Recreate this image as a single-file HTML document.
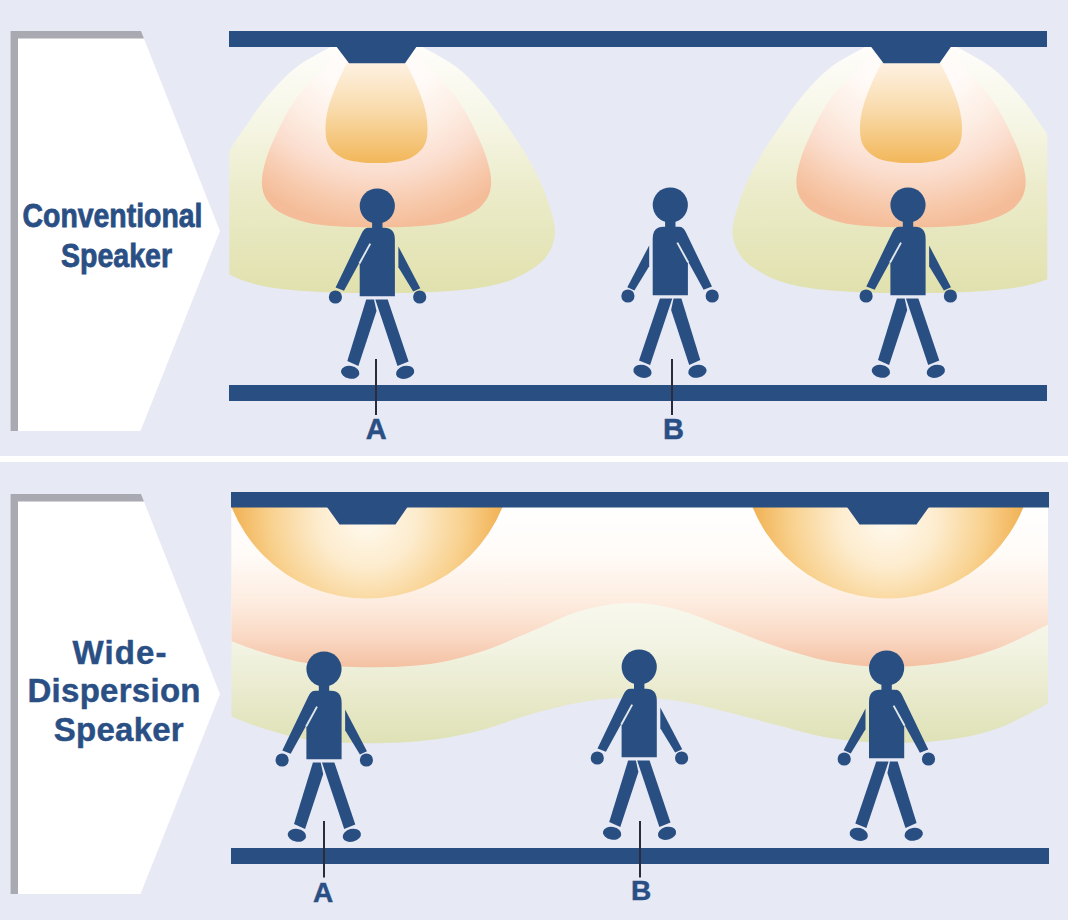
<!DOCTYPE html>
<html lang="en">
<head>
<meta charset="utf-8">
<title>Conventional Speaker vs Wide-Dispersion Speaker</title>
<style>
html,body{margin:0;padding:0;background:#e7e9f5;}
body{width:1068px;height:920px;overflow:hidden;font-family:"Liberation Sans",sans-serif;}
svg{display:block;}
text{font-family:"Liberation Sans",sans-serif;font-weight:bold;fill:#2a4f84;stroke:#2a4f84;stroke-width:0.45px;}
text.cond{stroke-width:0.8px;}
</style>
</head>
<body>
<svg width="1068" height="920" viewBox="0 0 1068 920" role="img" aria-label="Conventional speaker versus wide-dispersion speaker coverage">
<defs>
  <linearGradient id="gGreen" gradientUnits="userSpaceOnUse" x1="0" y1="47" x2="0" y2="293">
    <stop offset="0" stop-color="#fefdfa"/>
    <stop offset="0.3" stop-color="#f6f6e6"/>
    <stop offset="0.6" stop-color="#ebebc9"/>
    <stop offset="1" stop-color="#e1e1ae"/>
  </linearGradient>
  <radialGradient id="gPink" gradientUnits="userSpaceOnUse" cx="0" cy="0" r="230" gradientTransform="scale(0.9 1)">
    <stop offset="0" stop-color="#ffffff"/>
    <stop offset="0.42" stop-color="#fffaf7"/>
    <stop offset="0.6" stop-color="#fdeee4"/>
    <stop offset="0.75" stop-color="#fbdecf"/>
    <stop offset="0.9" stop-color="#f7c9ab"/>
    <stop offset="1" stop-color="#f4bc98"/>
  </radialGradient>
  <linearGradient id="gOrange" gradientUnits="userSpaceOnUse" x1="0" y1="62" x2="0" y2="163">
    <stop offset="0" stop-color="#fef2e4"/>
    <stop offset="0.45" stop-color="#f9dcae"/>
    <stop offset="1" stop-color="#f2b75a"/>
  </linearGradient>
  <linearGradient id="wPink" gradientUnits="userSpaceOnUse" x1="0" y1="507" x2="0" y2="667">
    <stop offset="0" stop-color="#ffffff"/>
    <stop offset="0.3" stop-color="#fffbf7"/>
    <stop offset="0.6" stop-color="#fdecdf"/>
    <stop offset="0.8" stop-color="#fadac6"/>
    <stop offset="1" stop-color="#f4c1a3"/>
  </linearGradient>
  <linearGradient id="wGreen" gradientUnits="userSpaceOnUse" x1="0" y1="600" x2="0" y2="743">
    <stop offset="0" stop-color="#f8f8ee"/>
    <stop offset="0.3" stop-color="#f3f4e4"/>
    <stop offset="0.65" stop-color="#e9eacd"/>
    <stop offset="1" stop-color="#dfe2b6"/>
  </linearGradient>
  <radialGradient id="wOrange" gradientUnits="userSpaceOnUse" cx="0" cy="518" r="140">
    <stop offset="0" stop-color="#fffaf0"/>
    <stop offset="0.35" stop-color="#fdecce"/>
    <stop offset="0.7" stop-color="#f8d08c"/>
    <stop offset="1" stop-color="#f0ad4c"/>
  </radialGradient>
  <clipPath id="clipTop"><rect x="229.3" y="40" width="818" height="350"/></clipPath>
  <clipPath id="clipBot"><rect x="231.5" y="500" width="816.5" height="350"/></clipPath>
  <clipPath id="clipSeg"><rect x="-200" y="507" width="400" height="200"/></clipPath>

  <g id="person" fill="#294f82">
    <circle cx="0" cy="0" r="17.6"/>
    <path d="M-5.2 14 H5.2 V24 H-5.2 Z"/>
    <path d="M-17.6 90.3 V50 L-9 21.8 H7 Q17.6 21.8 17.6 34 V90.3 Z"/>
    <path d="M-9.5 21.8 L-4 26 L-7.2 37.2 L-33.3 84.8 L-41.7 81.6 L-15.7 27.4 Q-13.5 22.5 -9.5 21.8 Z"/>
    <path d="M-7.0 37.6 L-17.9 57.5" stroke="#e2e8ec" stroke-width="1.9" fill="none"/>
    <circle cx="-41.9" cy="91" r="6.6"/>
    <path d="M21.1 40.4 L43 82.2 L35.9 85.5 L21.1 61.3 Z"/>
    <circle cx="42.4" cy="91" r="6.6"/>
    <path d="M-11.1 93.6 H-3.3 L-0.8 105 L-18.9 160 L-30 155 Z"/>
    <path d="M-2 93.6 H10.4 L31.3 155.5 L20.2 160 Z"/>
    <ellipse cx="-27.1" cy="166.3" rx="9.3" ry="6.4" transform="rotate(10 -27.1 166.3)"/>
    <ellipse cx="27.8" cy="166.3" rx="9.3" ry="6.4" transform="rotate(-15 27.8 166.3)"/>
  </g>
  <g id="cone">
    <path fill="url(#gGreen)" d="M44.0 46.0 C50.0 49.5 69.3 58.8 80.0 67.0 C90.7 75.2 99.7 85.3 108.0 95.0 C116.3 104.7 123.3 115.5 130.0 125.0 C136.7 134.5 142.7 143.2 148.0 152.0 C153.3 160.8 158.0 169.5 162.0 178.0 C166.0 186.5 169.3 194.7 172.0 203.0 C174.7 211.3 177.6 221.0 178.3 228.0 C179.0 235.0 177.9 239.7 176.0 245.0 C174.1 250.3 171.3 255.4 167.0 260.0 C162.7 264.6 156.7 268.7 150.0 272.5 C143.3 276.3 136.2 279.9 127.0 282.6 C117.8 285.4 107.8 287.4 95.0 289.0 C82.2 290.6 65.8 291.5 50.0 292.2 C34.2 292.9 16.7 293.0 0.0 293.0 C-16.7 293.0 -34.2 292.9 -50.0 292.2 C-65.8 291.5 -82.2 290.6 -95.0 289.0 C-107.8 287.4 -117.8 285.4 -127.0 282.6 C-136.2 279.9 -143.3 276.3 -150.0 272.5 C-156.7 268.7 -162.7 264.6 -167.0 260.0 C-171.3 255.4 -174.1 250.3 -176.0 245.0 C-177.9 239.7 -179.0 235.0 -178.3 228.0 C-177.6 221.0 -174.7 211.3 -172.0 203.0 C-169.3 194.7 -166.0 186.5 -162.0 178.0 C-158.0 169.5 -153.3 160.8 -148.0 152.0 C-142.7 143.2 -136.7 134.5 -130.0 125.0 C-123.3 115.5 -116.3 104.7 -108.0 95.0 C-99.7 85.3 -90.7 75.2 -80.0 67.0 C-69.3 58.8 -50.0 49.5 -44.0 46.0 Z"/>
    <path fill="url(#gPink)" d="M36.0 50.0 C38.7 53.0 45.3 60.8 52.0 68.0 C58.7 75.2 69.7 85.3 76.0 93.0 C82.3 100.7 85.7 106.5 90.0 114.0 C94.3 121.5 98.7 130.7 102.0 138.0 C105.3 145.3 107.9 151.3 110.0 158.0 C112.1 164.7 114.0 172.2 114.5 178.0 C115.0 183.8 114.3 188.7 113.0 193.0 C111.7 197.3 109.2 200.8 106.5 204.0 C103.8 207.2 101.9 209.2 97.0 212.0 C92.1 214.8 84.8 218.2 77.0 220.5 C69.2 222.8 62.8 224.3 50.0 225.5 C37.2 226.7 16.7 227.5 0.0 227.5 C-16.7 227.5 -37.2 226.7 -50.0 225.5 C-62.8 224.3 -69.2 222.8 -77.0 220.5 C-84.8 218.2 -92.1 214.8 -97.0 212.0 C-101.9 209.2 -103.8 207.2 -106.5 204.0 C-109.2 200.8 -111.7 197.3 -113.0 193.0 C-114.3 188.7 -115.0 183.8 -114.5 178.0 C-114.0 172.2 -112.1 164.7 -110.0 158.0 C-107.9 151.3 -105.3 145.3 -102.0 138.0 C-98.7 130.7 -94.3 121.5 -90.0 114.0 C-85.7 106.5 -82.3 100.7 -76.0 93.0 C-69.7 85.3 -58.7 75.2 -52.0 68.0 C-45.3 60.8 -38.7 53.0 -36.0 50.0 Z"/>
    <path fill="url(#gOrange)" d="M27.0 58.0 C29.2 62.5 36.4 76.5 40.0 85.0 C43.6 93.5 46.7 101.5 48.5 109.0 C50.3 116.5 51.2 123.8 51.0 130.0 C50.8 136.2 50.3 141.3 47.5 146.0 C44.7 150.7 39.6 155.2 34.0 158.0 C28.4 160.8 19.7 161.7 14.0 162.5 C8.3 163.3 4.7 163.0 0.0 163.0 C-4.7 163.0 -8.3 163.3 -14.0 162.5 C-19.7 161.7 -28.4 160.8 -34.0 158.0 C-39.6 155.2 -44.7 150.7 -47.5 146.0 C-50.3 141.3 -50.8 136.2 -51.0 130.0 C-51.2 123.8 -50.3 116.5 -48.5 109.0 C-46.7 101.5 -43.6 93.5 -40.0 85.0 C-36.4 76.5 -29.2 62.5 -27.0 58.0 Z"/>
    <path fill="#294f82" d="M-40.5 46 H40.5 L28.5 63.3 H-27.5 Z"/>
  </g>
  <g id="dome" clip-path="url(#clipSeg)">
    <circle cx="0" cy="452.4" r="146.1" fill="url(#wOrange)"/>
  </g>
</defs>

<rect x="0" y="0" width="1068" height="920" fill="#e7e9f5"/>
<rect x="0" y="456" width="1068" height="6" fill="#ffffff"/>

<!-- top panel -->
<path d="M10.5 31 H141 L220 231 L140.5 431 H10.5 Z" fill="#ffffff"/>
<path d="M10.5 431 V31 H141 L144 38.5 H18 V431 Z" fill="#a9aab1"/>
<text class="cond" x="112.5" y="227" font-size="33" text-anchor="middle" textLength="180" lengthAdjust="spacingAndGlyphs">Conventional</text>
<text class="cond" x="116.5" y="266.5" font-size="33" text-anchor="middle" textLength="111" lengthAdjust="spacingAndGlyphs">Speaker</text>

<g clip-path="url(#clipTop)">
  <use href="#cone" x="376.5" y="0"/>
  <use href="#cone" x="911" y="0"/>
</g>
<rect x="229" y="31" width="818" height="16" fill="#294f82"/>
<rect x="229" y="385" width="818" height="16" fill="#294f82"/>

<use href="#person" transform="translate(377.3 206)"/>
<use href="#person" transform="translate(670.3 205) scale(-1 1)"/>
<use href="#person" transform="translate(908 205)"/>

<rect x="375" y="359" width="2" height="56" fill="#2b2b3b"/>
<rect x="671" y="359" width="2" height="56" fill="#2b2b3b"/>
<text x="376.3" y="439" font-size="29" text-anchor="middle">A</text>
<text x="673.5" y="439.2" font-size="29" text-anchor="middle">B</text>

<!-- bottom panel -->
<path d="M10.5 494 H141 L220 694 L140.5 894 H10.5 Z" fill="#ffffff"/>
<path d="M10.5 894 V494 H141 L144 501.5 H18 V894 Z" fill="#a9aab1"/>
<text x="119.5" y="663.5" font-size="33" text-anchor="middle" textLength="94" lengthAdjust="spacing">Wide-</text>
<text x="114" y="701.5" font-size="33" text-anchor="middle" textLength="173" lengthAdjust="spacing">Dispersion</text>
<text x="118.7" y="740.5" font-size="33" text-anchor="middle" textLength="130" lengthAdjust="spacing">Speaker</text>

<g clip-path="url(#clipBot)">
  <path fill="url(#wGreen)" d="M231 500 L231.0 716.5 C236.7 718.6 251.8 725.1 265.0 729.0 C278.2 732.9 292.5 737.6 310.0 740.0 C327.5 742.4 350.0 743.3 370.0 743.3 C390.0 743.3 411.7 742.1 430.0 740.0 C448.3 737.9 463.3 734.8 480.0 730.5 C496.7 726.2 513.3 719.2 530.0 714.5 C546.7 709.8 564.5 705.2 580.0 702.5 C595.5 699.8 607.2 698.3 623.0 698.0 C638.8 697.7 658.0 698.2 675.0 700.5 C692.0 702.8 708.3 707.5 725.0 711.5 C741.7 715.5 757.5 720.1 775.0 724.5 C792.5 728.9 811.2 734.9 830.0 738.0 C848.8 741.1 868.0 742.8 888.0 743.0 C908.0 743.2 931.3 742.1 950.0 739.5 C968.7 736.9 983.7 733.5 1000.0 727.5 C1016.3 721.5 1040.0 707.5 1048.0 703.5 L1048 500 Z"/>
  <path fill="url(#wPink)" d="M231 500 L231.0 641.0 C236.7 643.0 251.8 649.2 265.0 653.0 C278.2 656.8 292.5 661.1 310.0 663.5 C327.5 665.9 350.0 667.2 370.0 667.3 C390.0 667.4 411.7 666.5 430.0 664.0 C448.3 661.5 463.3 657.3 480.0 652.0 C496.7 646.7 513.3 638.8 530.0 632.0 C546.7 625.2 563.3 615.8 580.0 611.0 C596.7 606.2 613.8 603.2 630.0 603.0 C646.2 602.8 661.2 605.5 677.0 609.5 C692.8 613.5 708.7 620.9 725.0 627.0 C741.3 633.1 757.5 640.2 775.0 646.0 C792.5 651.8 811.2 658.0 830.0 661.5 C848.8 665.0 868.0 667.0 888.0 667.0 C908.0 667.0 931.3 664.8 950.0 661.5 C968.7 658.2 983.7 653.7 1000.0 647.5 C1016.3 641.3 1040.0 628.3 1048.0 624.5 L1048 500 Z"/>
  <use href="#dome" x="367" y="0"/>
  <use href="#dome" x="888" y="0"/>
</g>
<rect x="231" y="492" width="818" height="15.5" fill="#294f82"/>
<rect x="231" y="848" width="818" height="16" fill="#294f82"/>
<path fill="#294f82" d="M327 507 H407.5 L395.5 524.5 H339.5 Z"/>
<path fill="#294f82" d="M847 507 H929 L916.5 524.5 H859.5 Z"/>

<use href="#person" transform="translate(324 669)"/>
<use href="#person" transform="translate(639.2 667)"/>
<use href="#person" transform="translate(886.6 668) scale(-1 1)"/>

<rect x="323" y="821" width="2" height="56.5" fill="#2b2b3b"/>
<rect x="639" y="821" width="2" height="56.5" fill="#2b2b3b"/>
<text x="323.2" y="902" font-size="28" text-anchor="middle">A</text>
<text x="641" y="900" font-size="28" text-anchor="middle">B</text>
</svg>
</body>
</html>
